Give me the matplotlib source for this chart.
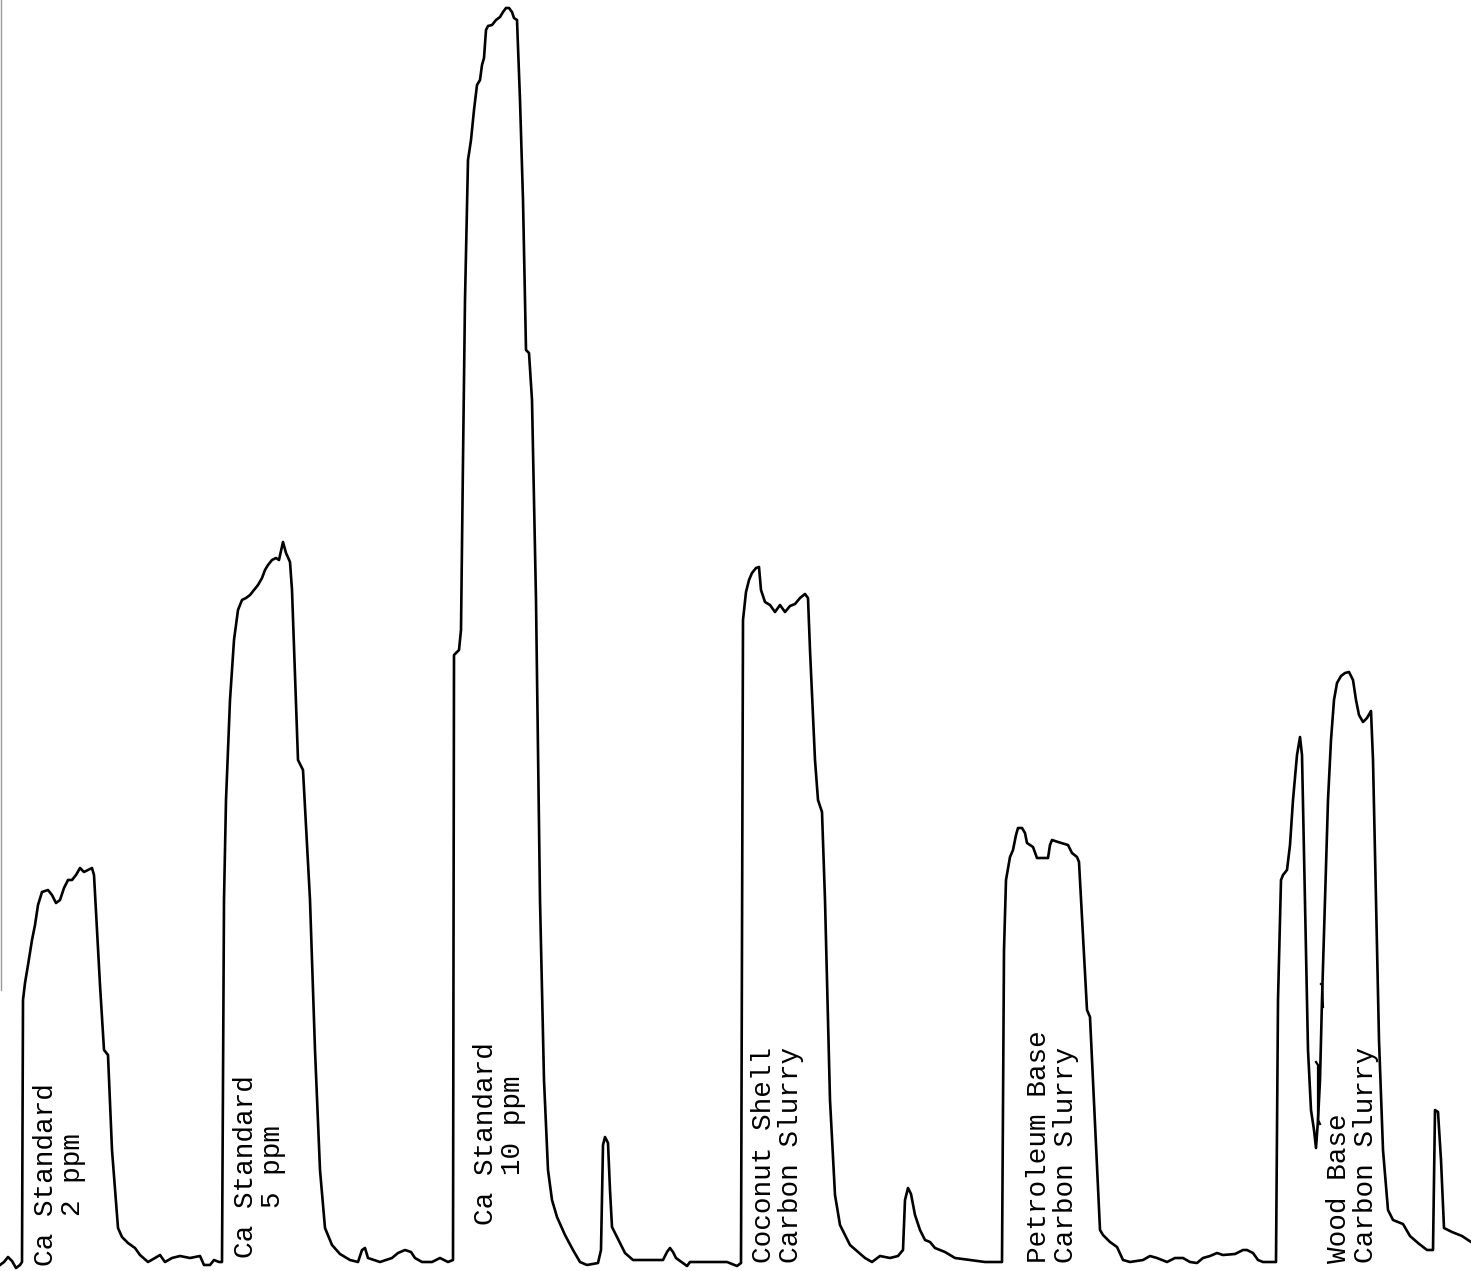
import matplotlib
matplotlib.use("Agg")
import matplotlib.pyplot as plt

# Chart-recorder trace: time (chart units) and signal height above baseline
time = [0, 4, 8, 12, 16, 20, 22, 23, 25, 28, 32, 35, 38, 42, 48, 52, 56, 60, 64, 68, 72, 76, 80, 84, 88, 92, 94,
        100, 104, 108, 112, 118, 122, 128, 135, 140, 148, 155, 160, 165, 172, 180, 190, 200, 204, 210, 214, 219, 222,
        224, 226, 230, 234, 238, 242, 246, 250, 254, 258, 262, 265, 268, 272, 276, 279, 283, 286, 290, 292, 298, 303,
        310, 315, 320, 325, 332, 340, 350, 358, 362, 365, 368, 380, 392, 398, 405, 411, 415, 422, 432, 440, 448, 453,
        454, 459, 461, 463, 465, 468, 471, 474, 477, 480, 482, 484, 486, 488, 492, 496, 500, 503, 506, 509, 512, 514,
        517, 520, 523, 526, 529, 532, 536, 540, 544, 548, 552, 557, 565, 573, 580, 587, 598, 601, 603, 605, 608, 610,
        612, 620, 625, 633, 663, 667, 670, 673, 676, 687, 690, 727, 737, 741,
        743, 746, 749, 752, 756, 759, 761, 765, 770, 775, 780, 785, 790, 795, 800, 805, 808, 810, 815, 818, 822, 825,
        830, 835, 840, 845, 850, 858, 865, 872, 880, 890, 898, 903, 905, 908, 911, 915, 920, 925, 930, 935, 945, 955,
        970, 985, 1000,
        1002, 1004, 1006, 1010, 1013, 1016, 1018, 1022, 1025, 1027, 1033, 1037, 1048, 1050, 1052, 1058, 1068, 1072,
        1077, 1079, 1087, 1090, 1100, 1103, 1110, 1117, 1123, 1130, 1143, 1150, 1157, 1167, 1175, 1183, 1190, 1197,
        1203, 1210, 1217, 1223, 1235, 1243, 1247, 1253, 1258, 1263, 1276,
        1278, 1281, 1283, 1287, 1290, 1293, 1297, 1300, 1302, 1305, 1308, 1311, 1314, 1316, 1318, 1320, 1322, 1325,
        1328, 1331, 1334, 1337, 1341, 1345, 1349, 1353, 1356, 1359, 1363, 1367, 1371, 1373, 1376, 1379, 1383, 1388,
        1393, 1403, 1410, 1418, 1427, 1433, 1435, 1438, 1441, 1444, 1452, 1462, 1471]

signal = [-3, 0, 5, 1, -6, -3, 0, 262, 279, 297, 322, 337, 357, 370, 372, 367, 359, 362, 374, 382, 382, 387, 394, 390,
          392, 394, 387, 277, 212, 207, 112, 34, 25, 19, 14, 7, 0, 4, 7, 0, 4, 6, 4, 6, -3, -3, 2, 0, 0,
          362, 462, 562, 622, 652, 662, 664, 667, 672, 677, 684, 692, 697, 702, 704, 702, 720, 709, 700, 672, 502, 492,
          362, 212, 92, 34, 17, 8, 2, 0, 12, 14, 4, 0, 4, 9, 12, 10, 4, 0, 0, 4, 0, 2,
          607, 612, 632, 802, 962, 1102, 1122, 1152, 1177, 1182, 1197, 1204, 1232, 1236, 1237, 1242, 1245, 1250, 1254,
          1254, 1250, 1244, 1242, 1162, 1062, 912, 909, 862, 662, 362, 182, 92, 62, 45, 27, 12, 0, -3, -1, 12, 117,
          125, 119, 72, 35, 19, 9, 2, 2, 10, 14, 10, 4, -4, 0, 0, -4, -1,
          642, 670, 682, 689, 694, 695, 672, 660, 657, 650, 657, 650, 656, 658, 664, 668, 664, 612, 502, 462, 450, 362,
          162, 67, 37, 27, 17, 10, 4, 0, 6, 4, 6, 12, 62, 74, 68, 47, 32, 22, 20, 14, 10, 4, 2, 0, 0,
          0, 312, 382, 405, 412, 427, 434, 434, 429, 419, 415, 404, 404, 417, 422, 420, 417, 409, 405, 400, 252, 245,
          32, 27, 20, 15, 2, 0, 2, 6, 4, 0, 4, 4, 0, -1, 4, 6, 9, 7, 8, 12, 12, 9, 2, 0, 0,
          262, 382, 387, 392, 417, 462, 507, 525, 507, 362, 212, 152, 132, 114, 142, 182, 262, 362, 462, 522, 562, 579,
          586, 589, 590, 582, 562, 547, 540, 544, 551, 502, 362, 222, 112, 52, 42, 38, 26, 19, 12, 12, 152, 150, 102,
          34, 30, 26, 20]

# small pen marks on the wood-base trace
mark1_time = [1316, 1318, 1318, 1320]
mark1_signal = [200, 197, 142, 138]
mark2_time = [1321, 1322, 1323]
mark2_signal = [278, 277, 255]

labels = ["Ca Standard\n   2 ppm", "Ca Standard\n   5 ppm", "Ca Standard\n   10 ppm",
          "Coconut Shell\nCarbon Slurry", "Petroleum Base\nCarbon Slurry", "Wood Base\nCarbon Slurry"]
label_time = [33, 233, 473, 751, 1026, 1326]
label_signal = [-4, 4, 37, -1, -1, -1]

fig = plt.figure(figsize=(14.71, 12.71), dpi=100)
ax = fig.add_axes([0, 0, 1, 1])
ax.set_xlim(0, 1471)
ax.set_ylim(-9, 1262)
ax.axis("off")

# faint left paper edge
ax.plot([1.5, 1.5], [272, 1262], color="#9a9a9a", lw=1.0)

ax.plot(time, signal, color="black", lw=1.9, solid_joinstyle="round")
ax.plot(mark1_time, mark1_signal, color="black", lw=1.6)
ax.plot(mark2_time, mark2_signal, color="black", lw=1.6)

for txt, tx, ty in zip(labels, label_time, label_signal):
    ax.text(tx, ty, txt, rotation=90, ha="left", va="bottom", family=["Liberation Mono", "DejaVu Sans Mono"],
            fontsize=20, linespacing=1.05, multialignment="left", color="black")

fig.savefig("out.png", dpi=100)
